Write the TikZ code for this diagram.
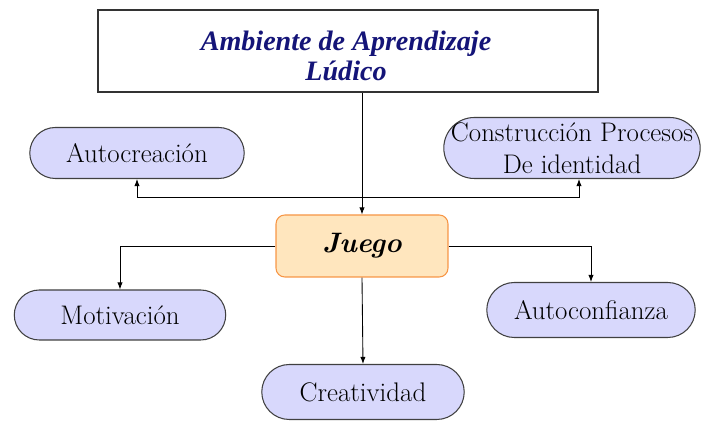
\documentclass[tikz,border=0pt]{standalone}
\usepackage{fontspec}
\newfontfamily\titulofont{Liberation Serif}
\usetikzlibrary{arrows.meta,shapes.misc}
\definecolor{lila}{RGB}{216,216,252}
\definecolor{azulosc}{RGB}{20,20,120}
\definecolor{naranja}{RGB}{255,230,190}
\definecolor{bordenar}{RGB}{247,150,70}
\begin{document}
\begin{tikzpicture}[x=0.02cm, y=-0.02cm,
    flecha/.style={-{Latex[length=4pt,width=3pt]}, line width=0.5pt},
    burbuja/.style={rounded rectangle, draw=black!75, fill=lila, line width=0.6pt,
      font=\fontsize{15.3}{18.5}\selectfont, align=center, inner sep=1pt}]

    \useasboundingbox (0,0) rectangle (701,421);

    % Caja superior
    \node[draw=black!80, line width=1.4pt, fill=white, minimum width=10cm, minimum height=1.64cm]
      (ambiente) at (348, 51) {};
    \node[align=center, text=azulosc, font=\titulofont\bfseries\itshape\fontsize{16}{17}\selectfont]
      (titulo) at (346, 56) {Ambiente de Aprendizaje\\Lúdico};

    % Nodo central
    \node[draw=bordenar, fill=naranja, rounded corners=5pt, line width=0.6pt,
      minimum width=3.44cm, minimum height=1.24cm,
      font=\bfseries\itshape\fontsize{16}{19}\selectfont] (juego) at (362, 246) {Juego};

    % Burbujas
    \node[burbuja, minimum width=4.36cm, minimum height=1.02cm] (autocreacion) at (137, 153) {Autocreación};
    \node[burbuja, inner xsep=-4pt, minimum height=1.22cm] (construccion) at (572, 148) {Construcción Procesos\\De identidad};
    \node[burbuja, minimum width=4.3cm, minimum height=1.0cm] (motivacion) at (120, 315) {Motivación};
    \node[burbuja, minimum width=4.24cm, minimum height=1.1cm] (autoconfianza) at (591, 310) {Autoconfianza};
    \node[burbuja, minimum width=4.12cm, minimum height=1.1cm] (creatividad) at (363, 392) {Creatividad};

    % Conectores
    \draw[flecha] (juego.north |- ambiente.south) -- (juego.north);
    \coordinate (cruce) at (362, 197);
    \draw[flecha] (cruce) -| (autocreacion.south);
    \draw[flecha] (cruce) -| ([xshift=0.14cm]construccion.south);
    \draw[flecha] (juego.west) -| (motivacion.north);
    \draw[flecha] (juego.east) -| (autoconfianza.north);
    \draw[flecha] (juego.south) -- (creatividad.north);

\end{tikzpicture}
\end{document}
